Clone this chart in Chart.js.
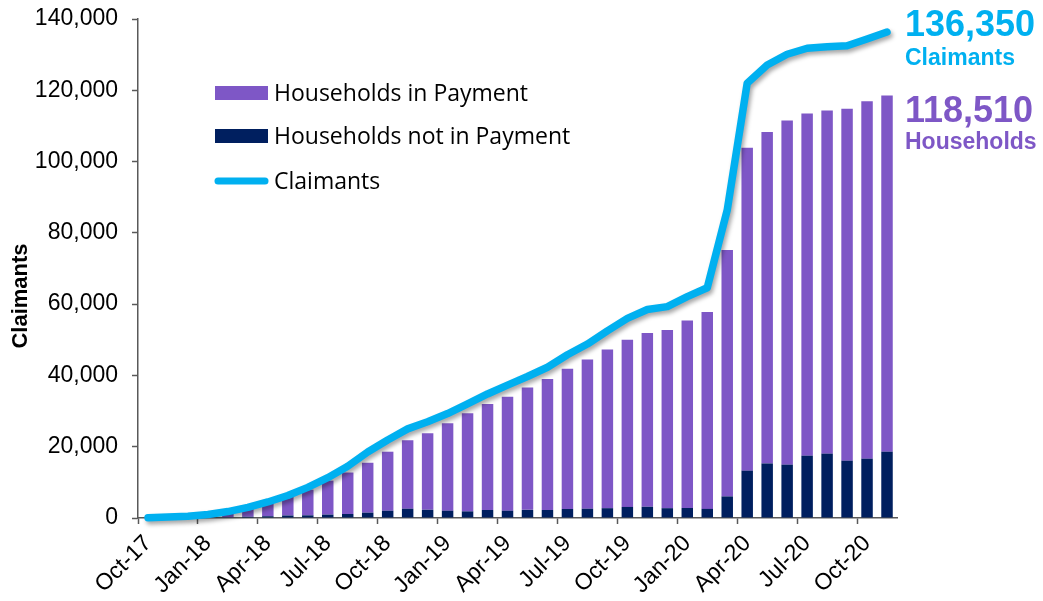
<!DOCTYPE html>
<html><head><meta charset="utf-8">
<script src="https://cdn.jsdelivr.net/npm/chart.js@4.4.1/dist/chart.umd.min.js"></script>
<style>html,body{margin:0;padding:0;background:#fff;}#wrap{width:1043px;height:601px;position:relative;}</style>
</head><body><div id="wrap"><canvas id="c" width="1043" height="601"></canvas></div>
<script>
const months = ['Oct-17','Nov-17','Dec-17','Jan-18','Feb-18','Mar-18','Apr-18','May-18','Jun-18','Jul-18','Aug-18','Sep-18',
  'Oct-18','Nov-18','Dec-18','Jan-19','Feb-19','Mar-19','Apr-19','May-19','Jun-19','Jul-19','Aug-19','Sep-19',
  'Oct-19','Nov-19','Dec-19','Jan-20','Feb-20','Mar-20','Apr-20','May-20','Jun-20','Jul-20','Aug-20','Sep-20','Oct-20','Nov-20'];
const tickLabels = ['Oct-17','Jan-18','Apr-18','Jul-18','Oct-18','Jan-19','Apr-19','Jul-19','Oct-19','Jan-20','Apr-20','Jul-20','Oct-20'];
const claimants = [100,250,500,1000,1800,3000,4500,6300,8600,11300,14500,18500,
  21900,25000,27000,29300,32000,34800,37300,39700,42300,45800,48800,52500,
  56000,58500,59300,62100,64600,86400,122000,127100,130100,131800,132200,132500,134400,136350];
const householdsInPayment = [0,0,150,400,1200,2300,3750,5200,7200,9530,11640,14000,
  16550,19200,21500,24550,27550,29760,31950,34320,36750,39380,41900,44550,
  46900,48750,50000,52600,55250,69150,90620,93000,96540,96020,96250,98720,100260,99910];
const householdsNotInPayment = [0,0,50,100,200,350,500,700,750,950,1120,1500,
  2050,2600,2300,2050,1850,2240,2050,2280,2250,2520,2600,2750,
  3100,3150,2750,2800,2550,6050,13280,15300,14960,17480,18050,16080,16640,18600];
const yTicks = [0,20000,40000,60000,80000,100000,120000,140000];
const yTitle = 'Claimants';

const PURPLE = '#7E57C6', NAVY = '#001F5F', CYAN = '#00B0F0', AXIS = '#595959';
const FONT = '"Liberation Sans", Arial, sans-serif';
const fmt = v => v.toLocaleString('en-US');

const lineShadow = {
  id: 'lineShadow',
  beforeDatasetDraw(chart, args) {
    if (args.index === 0) {
      const ctx = chart.ctx; ctx.save();
      ctx.shadowColor = 'rgba(0,0,0,0.35)'; ctx.shadowBlur = 4; ctx.shadowOffsetX = 2; ctx.shadowOffsetY = 3;
    }
  },
  afterDatasetDraw(chart, args) { if (args.index === 0) chart.ctx.restore(); }
};

const overlay = {
  id: 'overlay',
  afterDraw(chart) {
    const ctx = chart.ctx, ca = chart.chartArea;
    ctx.save();
    // y-axis title
    ctx.save();
    ctx.translate(21, 296); ctx.rotate(-Math.PI / 2);
    ctx.font = 'bold 22px ' + FONT; ctx.fillStyle = '#000';
    ctx.textAlign = 'center'; ctx.textBaseline = 'middle';
    ctx.fillText(yTitle, 0, 0);
    ctx.restore();
    // legend
    const items = [
      {label: chart.data.datasets[2].label, color: PURPLE, type: 'box'},
      {label: chart.data.datasets[1].label, color: NAVY, type: 'box'},
      {label: chart.data.datasets[0].label, color: CYAN, type: 'line'}
    ];
    const lx = 215, ly = [93, 136, 181];
    ctx.font = '23px "Open Sans", sans-serif';
    ctx.textBaseline = 'middle'; ctx.textAlign = 'left';
    items.forEach((it, k) => {
      if (it.type === 'box') { ctx.fillStyle = it.color; ctx.fillRect(lx, ly[k] - 7, 53, 14); }
      else { ctx.strokeStyle = it.color; ctx.lineWidth = 7; ctx.lineCap = 'round';
        ctx.beginPath(); ctx.moveTo(lx + 3, ly[k]); ctx.lineTo(lx + 50, ly[k]); ctx.stroke(); }
      ctx.fillStyle = '#000'; ctx.fillText(it.label, lx + 59, ly[k] + 1);
    });
    // end annotations
    const n = months.length - 1;
    const totalHH = householdsInPayment[n] + householdsNotInPayment[n];
    const ax = ca.right + 8;
    ctx.textBaseline = 'alphabetic';
    ctx.fillStyle = CYAN;
    ctx.font = 'bold 36px ' + FONT;
    ctx.fillText(fmt(claimants[n]), ax, 36);
    ctx.font = 'bold 23px ' + FONT;
    ctx.fillText('Claimants', ax, 65);
    ctx.fillStyle = PURPLE;
    ctx.font = 'bold 36px ' + FONT;
    ctx.fillText(fmt(totalHH), ax, 122);
    ctx.font = 'bold 23px ' + FONT;
    ctx.fillText('Households', ax, 149);
    ctx.restore();
  }
};

new Chart(document.getElementById('c'), {
  type: 'bar',
  data: {
    labels: months,
    datasets: [
      {type: 'line', label: 'Claimants', data: claimants, borderColor: CYAN, backgroundColor: CYAN,
        borderWidth: 7.5, pointRadius: 0, tension: 0, borderCapStyle: 'round', borderJoinStyle: 'round', clip: false, order: 0},
      {label: 'Households not in Payment', data: householdsNotInPayment, backgroundColor: NAVY, order: 1,
        categoryPercentage: 1, barPercentage: 0.575, stack: 'hh'},
      {label: 'Households in Payment', data: householdsInPayment, backgroundColor: PURPLE, order: 1,
        categoryPercentage: 1, barPercentage: 0.575, stack: 'hh'}
    ]
  },
  options: {
    responsive: false, animation: false, devicePixelRatio: 1,
    layout: {padding: {top: 19, right: 146, left: 0, bottom: 0}},
    plugins: {legend: {display: false}, tooltip: {enabled: false}},
    scales: {
      x: {
        stacked: true, offset: true,
        grid: {offset: true, drawOnChartArea: false, drawTicks: true, tickLength: 6,
          tickColor: c => (c.index !== undefined && tickLabels.includes(months[c.index])) ? AXIS : 'rgba(0,0,0,0)', tickWidth: 1.5},
        border: {color: AXIS, width: 1.5},
        ticks: {autoSkip: false, minRotation: 45, maxRotation: 45, padding: 6, color: '#000',
          font: {family: FONT, size: 23},
          callback: function(v, i) { return tickLabels.includes(months[i]) ? months[i] : ''; }},
        afterFit: s => { s.height = 83; s.paddingLeft = 0; s.paddingRight = 0; }
      },
      y: {
        stacked: true, min: 0, max: 140000,
        afterBuildTicks: s => { s.ticks = yTicks.map(v => ({value: v})); },
        grid: {drawOnChartArea: false, drawTicks: true, tickLength: 6, tickColor: AXIS, tickWidth: 1.5},
        border: {color: AXIS, width: 1.5},
        ticks: {padding: 14, color: '#000', font: {family: FONT, size: 23},
          callback: v => fmt(v)},
        afterFit: s => { s.width = 138; s.paddingTop = 0; s.paddingBottom = 0; }
      }
    }
  },
  plugins: [lineShadow, overlay]
});
</script></body></html>
